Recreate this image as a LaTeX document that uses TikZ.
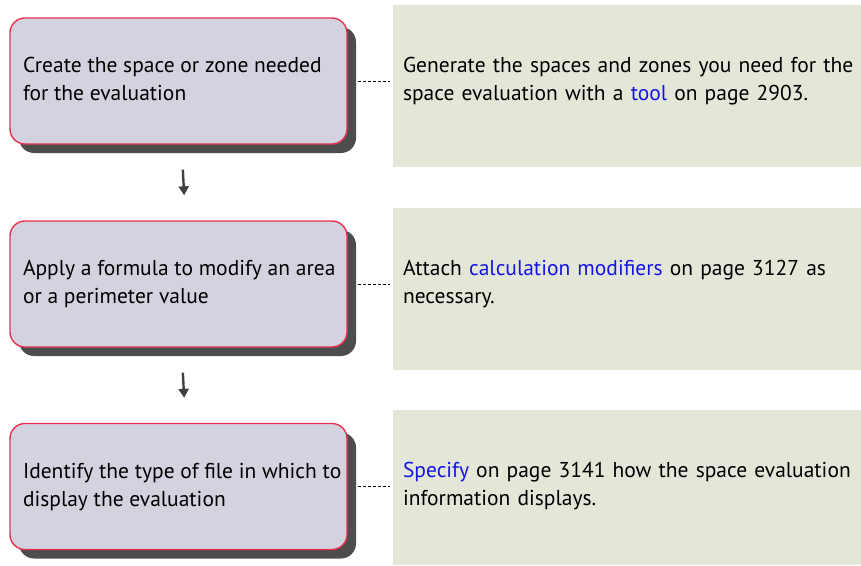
\documentclass[tikz,border=0pt]{standalone}
\usepackage{fontspec}
\setmainfont{PT Sans}
\usepackage{xcolor}
\usetikzlibrary{arrows.meta,shadows,calc}
\definecolor{StepFill}{RGB}{211,211,223}
\definecolor{StepLine}{RGB}{232,48,80}
\definecolor{StepShadow}{RGB}{77,77,77}
\definecolor{NoteFill}{RGB}{228,231,216}
\definecolor{LinkBlue}{RGB}{20,20,230}
\definecolor{ArrGray}{RGB}{64,64,64}
\newcommand{\lnk}[1]{\textcolor{LinkBlue}{#1}}
\newcommand{\steptext}[1]{\makebox[337pt][l]{\hspace*{13pt}\begin{tabular}{@{}l@{}}#1\end{tabular}}}
\tikzset{
  stepbox/.style={draw=StepLine,fill=StepFill,line width=1.4pt,rounded corners=15pt,minimum width=337pt,minimum height=126pt,inner sep=0pt,
    drop shadow={shadow xshift=9pt,shadow yshift=-9pt,fill=StepShadow,opacity=1}},
  notebox/.style={fill=NoteFill,minimum width=468pt,inner sep=0pt},
  notetext/.style={anchor=west,text width=460pt,align=left,inner sep=0pt},
  darr/.style={-{Triangle[length=9pt,width=10pt]},ArrGray,line width=2.4pt},
  link/.style={densely dashed,black,line width=0.8pt},
}

\begin{document}
\begin{tikzpicture}[x=1pt,y=-1pt,font=\fontsize{21.5}{28}\selectfont]
    \useasboundingbox (0,0) rectangle (861,565);
    %% Notes on the right
    \node[notebox,minimum height=162pt] (generate) at (627,86)    {};
    \node[notebox,minimum height=162pt] (attach)   at (627,289)   {};
    \node[notebox,minimum height=155pt] (specify)  at (627,487.5) {};
    %% Steps
    \node[stepbox] (create)   at (178.5,81)    {\steptext{Create the space or zone needed\\for the evaluation}};
    \node[stepbox] (formula)  at (178.5,284)   {\steptext{Apply a formula to modify an area\\or a perimeter value}};
    \node[stepbox] (identify) at (178.5,486.5) {\steptext{Identify the type of file in which to\\display the evaluation}};
    \draw[darr,shorten <=25pt,shorten >=25pt] ([xshift=3pt]create.south) -- ([xshift=7pt]formula.north);
    \draw[darr,shorten <=25pt,shorten >=25pt] ([xshift=3pt]formula.south) -- ([xshift=7pt]identify.north);
    %% Dashed links
    \draw[link,shorten <=10pt,shorten >=3pt] (create.east)   -- (create.east -| generate.west);
    \draw[link,shorten <=10pt,shorten >=3pt] (formula.east)  -- (formula.east -| attach.west);
    \draw[link,shorten <=10pt,shorten >=3pt] (identify.east) -- (identify.east -| specify.west);
    %% Note texts
    \node[notetext] (generatetxt) at ([xshift=10pt]create.east -| generate.west)   {Generate the spaces and zones you need for the\\space evaluation with a \lnk{tool} on page 2903.};
    \node[notetext] (attachtxt)   at ([xshift=10pt]formula.east -| attach.west)    {Attach \lnk{calculation modifiers} on page 3127 as\\necessary.};
    \node[notetext] (specifytxt)  at ([xshift=10pt]identify.east -| specify.west)  {\lnk{Specify} on page 3141 how the space evaluation\\information displays.};
\end{tikzpicture}
\end{document}
